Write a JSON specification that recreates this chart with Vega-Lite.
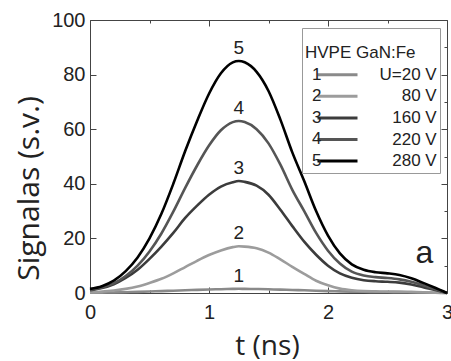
{
  "$schema": "https://vega.github.io/schema/vega-lite/v6.json",
  "width": 357,
  "height": 273,
  "autosize": {"type": "none"},
  "padding": {"left": 90, "top": 20, "right": 4, "bottom": 68},
  "background": "white",
  "config": {
    "view": {"stroke": null},
    "font": "Liberation Sans",
    "axis": {
      "grid": false,
      "domainColor": "#444",
      "domainWidth": 1,
      "tickColor": "#444",
      "tickWidth": 1,
      "labelFont": "Liberation Sans",
      "labelFontSize": 20,
      "labelColor": "#222",
      "labelFlush": false,
      "labelOverlap": false,
      "titleFont": "Open Sans",
      "titleFontWeight": "normal",
      "titleColor": "#222"
    }
  },
  "data": {
    "values": [
      {"n":"1","U":"U=20 V","t":0,"v":0.1},{"n":"1","U":"U=20 V","t":0.1,"v":0.15},{"n":"1","U":"U=20 V","t":0.2,"v":0.2},{"n":"1","U":"U=20 V","t":0.3,"v":0.3},{"n":"1","U":"U=20 V","t":0.4,"v":0.4},{"n":"1","U":"U=20 V","t":0.5,"v":0.55},{"n":"1","U":"U=20 V","t":0.6,"v":0.7},{"n":"1","U":"U=20 V","t":0.7,"v":0.85},{"n":"1","U":"U=20 V","t":0.8,"v":1.0},{"n":"1","U":"U=20 V","t":0.9,"v":1.15},{"n":"1","U":"U=20 V","t":1.0,"v":1.3},{"n":"1","U":"U=20 V","t":1.1,"v":1.4},{"n":"1","U":"U=20 V","t":1.2,"v":1.5},{"n":"1","U":"U=20 V","t":1.25,"v":1.55},{"n":"1","U":"U=20 V","t":1.3,"v":1.5},{"n":"1","U":"U=20 V","t":1.4,"v":1.45},{"n":"1","U":"U=20 V","t":1.5,"v":1.35},{"n":"1","U":"U=20 V","t":1.6,"v":1.25},{"n":"1","U":"U=20 V","t":1.7,"v":1.1},{"n":"1","U":"U=20 V","t":1.8,"v":1.0},{"n":"1","U":"U=20 V","t":1.9,"v":0.85},{"n":"1","U":"U=20 V","t":2.0,"v":0.7},{"n":"1","U":"U=20 V","t":2.1,"v":0.6},{"n":"1","U":"U=20 V","t":2.2,"v":0.5},{"n":"1","U":"U=20 V","t":2.3,"v":0.45},{"n":"1","U":"U=20 V","t":2.4,"v":0.4},{"n":"1","U":"U=20 V","t":2.5,"v":0.35},{"n":"1","U":"U=20 V","t":2.6,"v":0.3},{"n":"1","U":"U=20 V","t":2.7,"v":0.25},{"n":"1","U":"U=20 V","t":2.8,"v":0.2},{"n":"1","U":"U=20 V","t":2.9,"v":0.1},{"n":"1","U":"U=20 V","t":3.0,"v":0},
      {"n":"2","U":"80 V","t":0,"v":0.3},{"n":"2","U":"80 V","t":0.1,"v":0.5},{"n":"2","U":"80 V","t":0.2,"v":0.9},{"n":"2","U":"80 V","t":0.3,"v":1.5},{"n":"2","U":"80 V","t":0.4,"v":2.4},{"n":"2","U":"80 V","t":0.5,"v":3.7},{"n":"2","U":"80 V","t":0.6,"v":5.2},{"n":"2","U":"80 V","t":0.7,"v":7.2},{"n":"2","U":"80 V","t":0.8,"v":9.5},{"n":"2","U":"80 V","t":0.9,"v":11.8},{"n":"2","U":"80 V","t":1.0,"v":13.9},{"n":"2","U":"80 V","t":1.1,"v":15.6},{"n":"2","U":"80 V","t":1.2,"v":16.8},{"n":"2","U":"80 V","t":1.25,"v":17.1},{"n":"2","U":"80 V","t":1.3,"v":17.0},{"n":"2","U":"80 V","t":1.4,"v":16.4},{"n":"2","U":"80 V","t":1.5,"v":14.8},{"n":"2","U":"80 V","t":1.6,"v":12.3},{"n":"2","U":"80 V","t":1.7,"v":9.6},{"n":"2","U":"80 V","t":1.8,"v":7.0},{"n":"2","U":"80 V","t":1.9,"v":4.5},{"n":"2","U":"80 V","t":2.0,"v":2.8},{"n":"2","U":"80 V","t":2.1,"v":1.6},{"n":"2","U":"80 V","t":2.2,"v":1.0},{"n":"2","U":"80 V","t":2.3,"v":0.7},{"n":"2","U":"80 V","t":2.4,"v":0.6},{"n":"2","U":"80 V","t":2.5,"v":0.5},{"n":"2","U":"80 V","t":2.6,"v":0.5},{"n":"2","U":"80 V","t":2.7,"v":0.4},{"n":"2","U":"80 V","t":2.8,"v":0.3},{"n":"2","U":"80 V","t":2.9,"v":0.15},{"n":"2","U":"80 V","t":3.0,"v":0},
      {"n":"3","U":"160 V","t":0,"v":1.0},{"n":"3","U":"160 V","t":0.1,"v":1.8},{"n":"3","U":"160 V","t":0.2,"v":3.2},{"n":"3","U":"160 V","t":0.3,"v":5.5},{"n":"3","U":"160 V","t":0.4,"v":8.5},{"n":"3","U":"160 V","t":0.5,"v":12.5},{"n":"3","U":"160 V","t":0.6,"v":17},{"n":"3","U":"160 V","t":0.7,"v":22},{"n":"3","U":"160 V","t":0.8,"v":27.5},{"n":"3","U":"160 V","t":0.9,"v":32},{"n":"3","U":"160 V","t":1.0,"v":36},{"n":"3","U":"160 V","t":1.1,"v":39},{"n":"3","U":"160 V","t":1.2,"v":40.6},{"n":"3","U":"160 V","t":1.25,"v":41},{"n":"3","U":"160 V","t":1.3,"v":40.7},{"n":"3","U":"160 V","t":1.4,"v":39.3},{"n":"3","U":"160 V","t":1.5,"v":36},{"n":"3","U":"160 V","t":1.6,"v":30.5},{"n":"3","U":"160 V","t":1.7,"v":24.5},{"n":"3","U":"160 V","t":1.8,"v":18.8},{"n":"3","U":"160 V","t":1.9,"v":14},{"n":"3","U":"160 V","t":2.0,"v":10},{"n":"3","U":"160 V","t":2.1,"v":7.2},{"n":"3","U":"160 V","t":2.2,"v":5.6},{"n":"3","U":"160 V","t":2.3,"v":4.7},{"n":"3","U":"160 V","t":2.4,"v":4.3},{"n":"3","U":"160 V","t":2.5,"v":4.1},{"n":"3","U":"160 V","t":2.6,"v":3.8},{"n":"3","U":"160 V","t":2.7,"v":3.1},{"n":"3","U":"160 V","t":2.8,"v":2.1},{"n":"3","U":"160 V","t":2.9,"v":1.1},{"n":"3","U":"160 V","t":3.0,"v":0},
      {"n":"4","U":"220 V","t":0,"v":1.2},{"n":"4","U":"220 V","t":0.1,"v":2},{"n":"4","U":"220 V","t":0.2,"v":3.5},{"n":"4","U":"220 V","t":0.3,"v":6.2},{"n":"4","U":"220 V","t":0.4,"v":10},{"n":"4","U":"220 V","t":0.5,"v":15.2},{"n":"4","U":"220 V","t":0.6,"v":21.8},{"n":"4","U":"220 V","t":0.7,"v":29.8},{"n":"4","U":"220 V","t":0.8,"v":38.5},{"n":"4","U":"220 V","t":0.9,"v":46.7},{"n":"4","U":"220 V","t":1.0,"v":54},{"n":"4","U":"220 V","t":1.1,"v":59.6},{"n":"4","U":"220 V","t":1.2,"v":62.6},{"n":"4","U":"220 V","t":1.25,"v":63},{"n":"4","U":"220 V","t":1.3,"v":62.6},{"n":"4","U":"220 V","t":1.4,"v":60},{"n":"4","U":"220 V","t":1.5,"v":54.8},{"n":"4","U":"220 V","t":1.6,"v":47},{"n":"4","U":"220 V","t":1.7,"v":37.8},{"n":"4","U":"220 V","t":1.8,"v":30},{"n":"4","U":"220 V","t":1.9,"v":22},{"n":"4","U":"220 V","t":2.0,"v":15.5},{"n":"4","U":"220 V","t":2.1,"v":10.8},{"n":"4","U":"220 V","t":2.2,"v":7.8},{"n":"4","U":"220 V","t":2.3,"v":6.4},{"n":"4","U":"220 V","t":2.4,"v":5.8},{"n":"4","U":"220 V","t":2.5,"v":5.5},{"n":"4","U":"220 V","t":2.6,"v":5.0},{"n":"4","U":"220 V","t":2.7,"v":4.1},{"n":"4","U":"220 V","t":2.8,"v":2.8},{"n":"4","U":"220 V","t":2.9,"v":1.4},{"n":"4","U":"220 V","t":3.0,"v":0},
      {"n":"5","U":"280 V","t":0,"v":1.5},{"n":"5","U":"280 V","t":0.1,"v":2.5},{"n":"5","U":"280 V","t":0.2,"v":4.5},{"n":"5","U":"280 V","t":0.3,"v":8},{"n":"5","U":"280 V","t":0.4,"v":13},{"n":"5","U":"280 V","t":0.5,"v":20},{"n":"5","U":"280 V","t":0.6,"v":29},{"n":"5","U":"280 V","t":0.7,"v":40},{"n":"5","U":"280 V","t":0.8,"v":52},{"n":"5","U":"280 V","t":0.9,"v":63},{"n":"5","U":"280 V","t":1.0,"v":73},{"n":"5","U":"280 V","t":1.1,"v":80.5},{"n":"5","U":"280 V","t":1.2,"v":84.5},{"n":"5","U":"280 V","t":1.25,"v":85},{"n":"5","U":"280 V","t":1.3,"v":84.5},{"n":"5","U":"280 V","t":1.4,"v":81},{"n":"5","U":"280 V","t":1.5,"v":74},{"n":"5","U":"280 V","t":1.6,"v":63.5},{"n":"5","U":"280 V","t":1.7,"v":51.5},{"n":"5","U":"280 V","t":1.8,"v":41},{"n":"5","U":"280 V","t":1.9,"v":30},{"n":"5","U":"280 V","t":2.0,"v":21},{"n":"5","U":"280 V","t":2.1,"v":14.5},{"n":"5","U":"280 V","t":2.2,"v":10.5},{"n":"5","U":"280 V","t":2.3,"v":8.5},{"n":"5","U":"280 V","t":2.4,"v":7.6},{"n":"5","U":"280 V","t":2.5,"v":7.2},{"n":"5","U":"280 V","t":2.6,"v":6.6},{"n":"5","U":"280 V","t":2.7,"v":5.4},{"n":"5","U":"280 V","t":2.8,"v":3.7},{"n":"5","U":"280 V","t":2.9,"v":1.9},{"n":"5","U":"280 V","t":3.0,"v":0}
    ]
  },
  "layer": [
    {
      "layer": [
        {
          "mark": {"type": "line", "interpolate": "monotone", "strokeWidth": 2.6},
          "encoding": {
            "x": {
              "field": "t", "type": "quantitative", "title": "t (ns)",
              "scale": {"domain": [0, 3], "nice": false, "zero": false},
              "axis": {
                "orient": "bottom",
                "values": [0, 0.5, 1, 1.5, 2, 2.5, 3],
                "labelExpr": "datum.value % 1 === 0 ? format(datum.value, 'd') : ''",
                "tickSize": {"condition": {"test": "datum.value % 1 === 0", "value": -6}, "value": -3},
                "labelPadding": 15,
                "titleFontSize": 28,
                "titleX": 177, "titleY": 53,
                "titleAlign": "center", "titleBaseline": "middle", "titleAnchor": null
              }
            },
            "y": {
              "field": "v", "type": "quantitative", "title": "Signalas (s.v.)",
              "scale": {"domain": [0, 100], "nice": false},
              "axis": {
                "orient": "left",
                "values": [0, 10, 20, 30, 40, 50, 60, 70, 80, 90, 100],
                "labelExpr": "datum.value % 20 === 0 ? format(datum.value, 'd') : ''",
                "tickSize": {"condition": {"test": "datum.value % 20 === 0", "value": -6}, "value": -3},
                "labelPadding": 11,
                "titleFontSize": 30,
                "titleAngle": -90,
                "titleX": -61, "titleY": 168,
                "titleAlign": "center", "titleBaseline": "middle", "titleAnchor": null
              }
            },
            "stroke": {
              "field": "U", "type": "nominal",
              "scale": {"domain": ["U=20 V", "80 V", "160 V", "220 V", "280 V"], "range": ["#8a8a8a", "#9c9c9c", "#3c3c3c", "#555555", "#000000"]},
              "legend": {
                "orient": "none", "legendX": 212, "legendY": 8,
                "title": ["", "\u00a0HVPE GaN:Fe"],
                "titleFont": "Liberation Sans", "titleFontSize": 17, "titleFontWeight": "normal", "titleColor": "#222",
                "titleLineHeight": 13.5, "titlePadding": 4.7,
                "padding": 3,
                "strokeColor": "#999", "fillColor": "white",
                "symbolType": "stroke", "symbolSize": 1600, "symbolStrokeWidth": 3, "symbolOffset": 11,
                "clipHeight": 17, "rowPadding": 3.6,
                "labelFont": "Liberation Sans", "labelFontSize": 17, "labelColor": "#222",
                "labelAlign": "right", "labelOffset": 77.7, "labelLimit": 200
              }
            },
            "opacity": {
              "field": "n", "type": "nominal",
              "scale": {"domain": ["1", "2", "3", "4", "5"], "range": [1, 1, 1, 1, 1]},
              "legend": {
                "orient": "none", "legendX": 205, "legendY": 46,
                "title": null, "padding": 0,
                "symbolType": "circle", "symbolSize": 0, "symbolOpacity": 0,
                "symbolFillColor": "transparent", "symbolStrokeColor": "transparent",
                "clipHeight": 17, "rowPadding": 3.6,
                "labelFont": "Liberation Sans", "labelFontSize": 17, "labelColor": "#222",
                "labelOffset": 0
              }
            }
          }
        },
        {
          "transform": [{"aggregate": [{"op": "argmax", "field": "v", "as": "pk"}], "groupby": ["n"]}],
          "mark": {"type": "text", "baseline": "bottom", "align": "center", "dy": -3, "fontSize": 19, "color": "#222", "font": "Liberation Sans"},
          "encoding": {
            "x": {"field": "pk.t", "type": "quantitative", "title": "t (ns)"},
            "y": {"field": "pk.v", "type": "quantitative", "title": "Signalas (s.v.)"},
            "text": {"field": "n"}
          }
        },
        {
          "data": {"values": [{"label": "a"}]},
          "mark": {"type": "text", "align": "center", "baseline": "middle", "fontSize": 32, "color": "#222", "font": "Liberation Sans"},
          "encoding": {
            "x": {"datum": 2.81, "type": "quantitative"},
            "y": {"datum": 14.8, "type": "quantitative"},
            "text": {"field": "label"}
          }
        }
      ]
    },
    {
      "mark": {"type": "point", "opacity": 0},
      "encoding": {
        "x": {
          "field": "t", "type": "quantitative",
          "scale": {"domain": [0, 3], "nice": false, "zero": false},
          "axis": {
            "orient": "top", "title": null, "labels": false,
            "values": [0, 0.5, 1, 1.5, 2, 2.5, 3],
            "tickSize": {"condition": {"test": "datum.value % 1 === 0", "value": -6}, "value": -3}
          }
        },
        "y": {
          "field": "v", "type": "quantitative",
          "scale": {"domain": [0, 100], "nice": false},
          "axis": {
            "orient": "right", "title": null, "labels": false,
            "values": [0, 10, 20, 30, 40, 50, 60, 70, 80, 90, 100],
            "tickSize": {"condition": {"test": "datum.value % 20 === 0", "value": -6}, "value": -3}
          }
        }
      }
    }
  ],
  "resolve": {"scale": {"x": "independent", "y": "independent"}}
}
